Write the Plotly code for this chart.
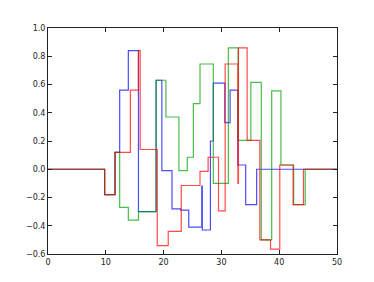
import plotly.graph_objects as go

blue_x = [0, 9.8, 11.6, 12.4, 13.9, 15.65, 18.7, 19.7, 21.45, 22.95, 24.35, 26.6, 26.7, 28.1, 28.6, 30.6, 31.5, 32.85, 34.2, 36.1, 50]
blue_y = [0, -0.18, 0.12, 0.56, 0.84, -0.30, 0.63, -0.01, -0.28, -0.29, -0.41, -0.12, -0.43, 0.20, 0.61, 0.33, 0.56, 0.03, -0.25, 0, 0]

green_x = [0, 9.8, 11.6, 12.4, 13.9, 15.65, 18.7, 20.4, 22.65, 24.1, 25.15, 26.3, 28.6, 31.2, 32.9, 35.1, 36.9, 38.7, 40.3, 42.5, 44.5, 50]
green_y = [0, -0.18, 0.12, -0.27, -0.36, -0.30, 0.63, 0.37, -0.01, 0.085, 0.465, 0.745, -0.10, 0.86, 0.205, 0.615, -0.50, 0.555, 0.03, -0.25, 0, 0]

red_x = [0, 9.8, 11.6, 14.25, 15.65, 15.95, 18.9, 20.8, 23.05, 26.3, 27.7, 29.5, 30.65, 32.85, 32.95, 34.45, 36.65, 38.5, 40.1, 42.4, 44.2, 50]
red_y = [0, -0.18, 0.12, 0.56, 0.84, 0.14, -0.54, -0.44, -0.115, -0.015, 0.085, -0.295, 0.745, -0.10, 0.86, 0.205, -0.50, -0.565, 0.03, -0.25, 0, 0]

x_ticks = [0, 10, 20, 30, 40, 50]
y_ticks = [-0.6, -0.4, -0.2, 0.0, 0.2, 0.4, 0.6, 0.8, 1.0]

fig = go.Figure()
for xs, ys, col in [(blue_x, blue_y, "#0000ff"), (green_x, green_y, "#00a000"), (red_x, red_y, "#ff0000")]:
    fig.add_trace(go.Scatter(x=xs, y=ys, mode="lines", line=dict(shape="hv", color=col, width=1.2),
                             opacity=0.7, showlegend=False))

axis_common = dict(showgrid=False, zeroline=False, showline=True, linecolor="#222", linewidth=1,
                   mirror="ticks", ticks="inside", ticklen=4, tickcolor="#222", automargin=False,
                   tickfont=dict(family="DejaVu Sans", size=8, color="#222"))
fig.update_xaxes(range=[0, 50], tickvals=x_ticks, **axis_common)
fig.update_yaxes(range=[-0.6, 1.0], tickvals=y_ticks, tickformat=".1f", **axis_common)
fig.update_layout(width=358, height=266, margin=dict(l=40, r=29, t=20, b=20),
                  paper_bgcolor="white", plot_bgcolor="white")
fig.write_html("out.html")
